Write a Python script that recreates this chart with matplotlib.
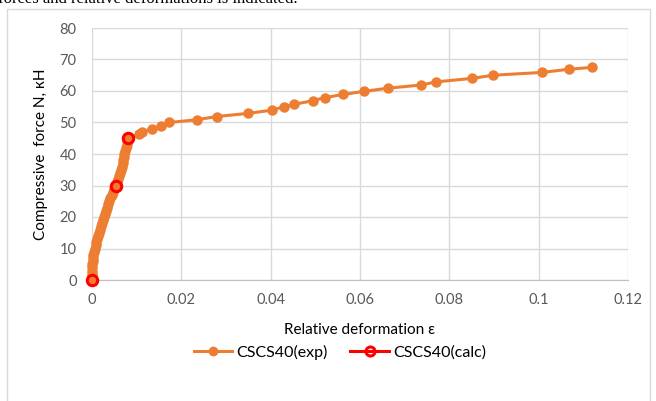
import matplotlib
matplotlib.use("Agg")
import matplotlib.pyplot as plt
from matplotlib.lines import Line2D
from matplotlib.patches import Rectangle

# Experimental curve: relative deformation vs compressive force (kN)
eps_exp = [0, 0.00002, 0.00004, 0.00006, 0.00008, 0.0001, 0.00015, 0.0002, 0.0003,
           0.0004, 0.0006, 0.0008, 0.0010, 0.0011, 0.0013, 0.0015, 0.0018, 0.0020,
           0.0022, 0.0024, 0.0026, 0.0029, 0.0031, 0.0034, 0.0036, 0.0039, 0.0041,
           0.0044, 0.0047, 0.0050, 0.0053, 0.0055, 0.0058, 0.0060, 0.0062, 0.0065,
           0.0067, 0.0069, 0.0070, 0.0071, 0.0072, 0.0074, 0.0076, 0.0078, 0.0079,
           0.0081,
           0.0105, 0.0111, 0.0135, 0.0155, 0.0173, 0.0236, 0.0279, 0.0350, 0.0402,
           0.0430, 0.0453, 0.0494, 0.0521, 0.0562, 0.0610, 0.0663, 0.0737, 0.0771,
           0.0850, 0.0898, 0.1008, 0.1067, 0.1120]
N_exp = [0, 1, 2, 3, 4, 5, 6, 7, 8, 9, 10, 11, 12, 13, 14, 15, 16, 17, 18, 19, 20,
         21, 22, 23, 24, 25, 26, 27, 28, 29, 30, 31, 32, 33, 34, 35, 36, 37, 38, 39,
         40, 41, 42, 43, 44, 45,
         46.3, 47.1, 47.9, 49.0, 50.0, 50.9, 51.9, 52.9, 53.9, 55.0, 55.8, 56.9,
         57.9, 58.9, 59.9, 60.9, 61.9, 62.9, 64.0, 65.0, 65.9, 66.9, 67.5]

# Calculated points
eps_calc = [0, 0.0053, 0.0081]
N_calc = [0, 30, 45]

ORANGE = "#ED7D31"
RED = "#FF0000"
GRID = "#D9D9D9"
TICK = "#595959"
FONT = ["Lato", "DejaVu Sans"]

fig = plt.figure(figsize=(6.56, 4.01), dpi=100)

# chart frame and the line of document text above it
fig.patches.append(Rectangle((7 / 656, -0.01), 643 / 656, 1 - 9 / 401 + 0.01,
                             transform=fig.transFigure, fill=False,
                             edgecolor=GRID, lw=1.0))
fig.text(-0.003, 1 - 3 / 401, "forces and relative deformations is indicated.",
         family="Liberation Serif", fontsize=12, color="black",
         ha="left", va="baseline")

ax = fig.add_axes([92 / 656, 1 - 280 / 401, (628 - 92) / 656, (280 - 28) / 401])

ax.plot(eps_exp, N_exp, color=ORANGE, lw=2.2, marker="o", ms=6.5, mec=ORANGE,
        mfc=ORANGE, zorder=3, clip_on=False)
ax.plot(eps_calc, N_calc, ls="none", marker="o", ms=7.5, mfc="none",
        mec=RED, mew=2.2, zorder=4, clip_on=False)

ax.set_xlim(0, 0.12)
ax.set_ylim(0, 80)
ax.set_xticks([0, 0.02, 0.04, 0.06, 0.08, 0.1, 0.12])
ax.set_xticklabels(["0", "0.02", "0.04", "0.06", "0.08", "0.1", "0.12"])
ax.set_yticks(range(0, 81, 10))
ax.grid(True, color=GRID, lw=1.0)
ax.set_axisbelow(True)
for s in ("top", "right", "left"):
    ax.spines[s].set_visible(False)
ax.spines["bottom"].set_color("#BFBFBF")
ax.tick_params(length=0, labelsize=10.5, labelcolor=TICK)
ax.tick_params(axis="y", pad=11)
ax.tick_params(axis="x", pad=9)
for lbl in ax.get_xticklabels() + ax.get_yticklabels():
    lbl.set_family(FONT)

ax.set_xlabel("Relative deformation \u03b5", family=FONT, fontsize=11,
              color="black", labelpad=12)
ax.set_ylabel("Compressive  force N, \u043a\u041d", family=FONT, fontsize=11,
              color="black", labelpad=8)

handles = [
    Line2D([], [], color=ORANGE, lw=2.2, marker="o", ms=6, mfc=ORANGE, mec=ORANGE),
    Line2D([], [], color=RED, lw=2.2, marker="o", ms=6.5, mfc="none", mec=RED, mew=2.2),
]
fig.legend(handles, ["CSCS40(exp)", "CSCS40(calc)"], loc="center",
           bbox_to_anchor=(340 / 656, 1 - 352 / 401), ncol=2, frameon=False,
           prop={"family": FONT, "size": 11.5}, handlelength=2.4,
           columnspacing=1.4, handletextpad=0.3)

fig.savefig("out.png", dpi=100)
